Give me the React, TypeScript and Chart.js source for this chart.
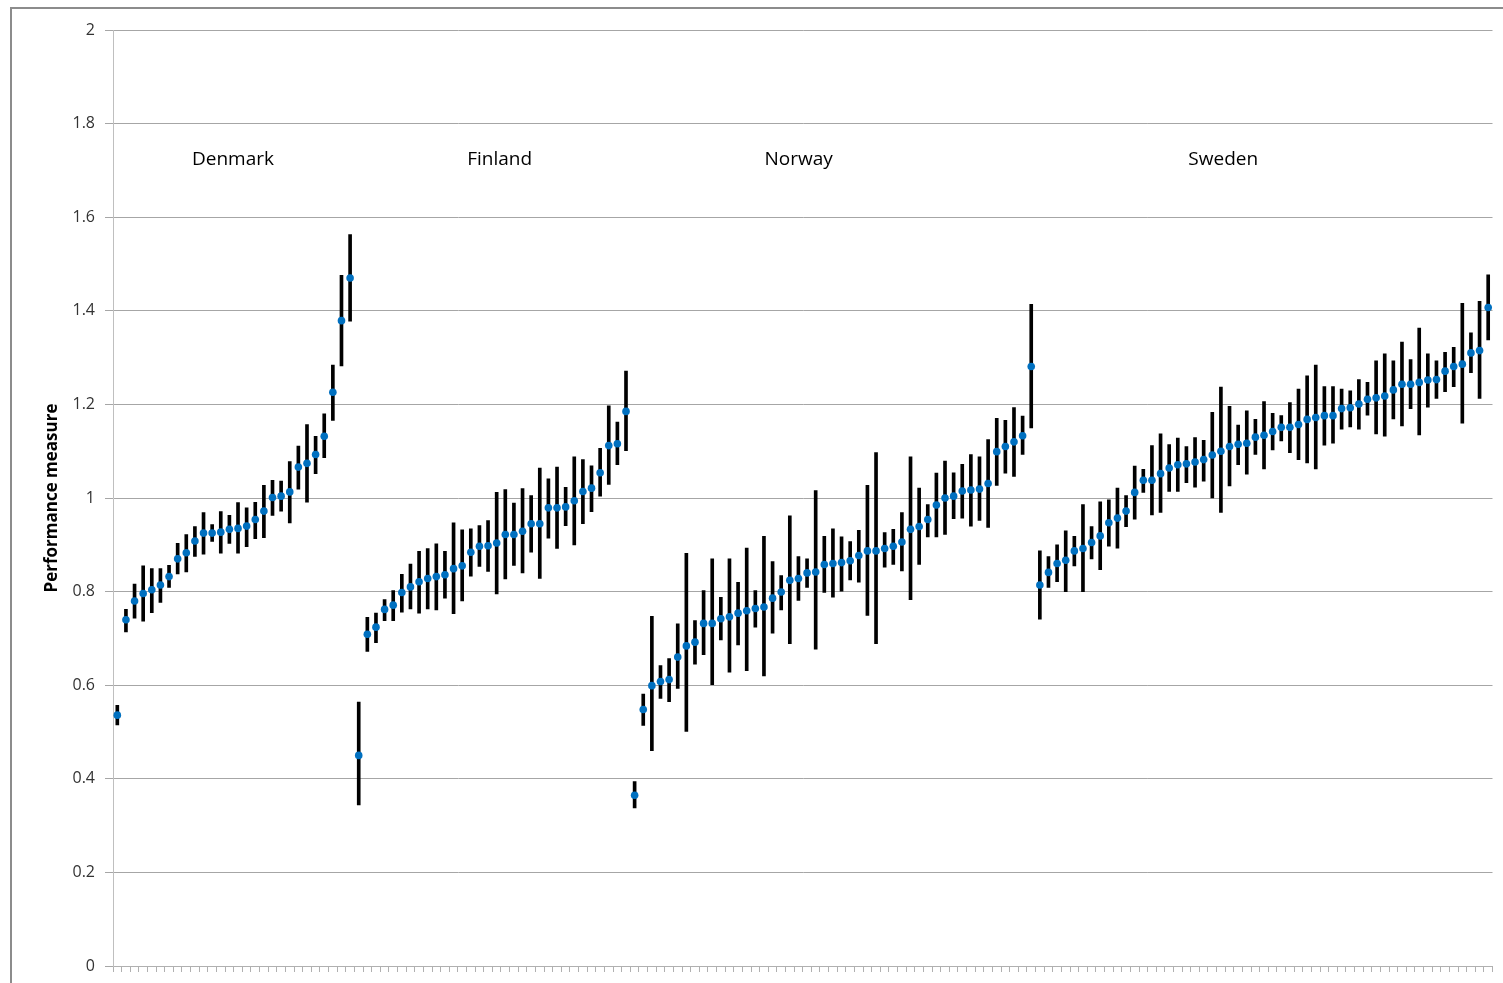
import React, { useEffect, useRef } from "react";
import { Chart, registerables } from "chart.js";

Chart.register(...registerables);

// ---- data ----
const groupNames = ["Denmark", "Finland", "Norway", "Sweden"];
// label centre positions, expressed in category-index units
const groupLabelPos = [13.42, 44.34, 79.02, 128.27];
const groupLabelValue = 1.724;

const denmarkValues = [0.536, 0.74, 0.78, 0.796, 0.804, 0.814, 0.832, 0.87, 0.883, 0.908, 0.925, 0.925, 0.927, 0.933, 0.935, 0.94, 0.954, 0.972, 1.001, 1.004, 1.013, 1.066, 1.074, 1.093, 1.132, 1.226, 1.379, 1.47];
const denmarkLow = [0.515, 0.714, 0.743, 0.737, 0.755, 0.777, 0.809, 0.838, 0.842, 0.875, 0.88, 0.907, 0.882, 0.903, 0.882, 0.896, 0.913, 0.915, 0.963, 0.972, 0.947, 1.019, 0.991, 1.052, 1.086, 1.166, 1.282, 1.378];
const denmarkHigh = [0.557, 0.762, 0.816, 0.855, 0.849, 0.849, 0.856, 0.903, 0.922, 0.939, 0.969, 0.943, 0.971, 0.963, 0.99, 0.979, 0.991, 1.027, 1.038, 1.036, 1.078, 1.111, 1.157, 1.132, 1.18, 1.284, 1.476, 1.563];

const finlandValues = [0.45, 0.709, 0.724, 0.762, 0.771, 0.798, 0.81, 0.821, 0.828, 0.832, 0.836, 0.849, 0.855, 0.884, 0.897, 0.898, 0.904, 0.922, 0.922, 0.929, 0.945, 0.945, 0.979, 0.979, 0.981, 0.994, 1.014, 1.021, 1.054, 1.112, 1.116, 1.185];
const finlandLow = [0.344, 0.672, 0.691, 0.738, 0.738, 0.756, 0.763, 0.754, 0.763, 0.761, 0.786, 0.753, 0.78, 0.833, 0.854, 0.843, 0.795, 0.827, 0.856, 0.84, 0.884, 0.828, 0.914, 0.892, 0.941, 0.9, 0.945, 0.971, 1.004, 1.029, 1.071, 1.101];
const finlandHigh = [0.564, 0.745, 0.754, 0.783, 0.802, 0.837, 0.859, 0.886, 0.892, 0.902, 0.886, 0.947, 0.932, 0.934, 0.941, 0.952, 1.012, 1.018, 0.989, 1.02, 1.005, 1.064, 1.041, 1.066, 1.023, 1.088, 1.082, 1.069, 1.106, 1.197, 1.162, 1.271];

const norwayValues = [0.365, 0.548, 0.599, 0.608, 0.612, 0.66, 0.684, 0.692, 0.732, 0.732, 0.742, 0.746, 0.754, 0.759, 0.764, 0.767, 0.786, 0.799, 0.824, 0.828, 0.84, 0.842, 0.858, 0.86, 0.862, 0.866, 0.877, 0.887, 0.887, 0.892, 0.897, 0.906, 0.933, 0.939, 0.954, 0.985, 1.0, 1.004, 1.015, 1.017, 1.019, 1.031, 1.099, 1.11, 1.12, 1.133, 1.281];
const norwayLow = [0.338, 0.514, 0.46, 0.572, 0.565, 0.593, 0.501, 0.645, 0.665, 0.601, 0.697, 0.628, 0.686, 0.631, 0.724, 0.62, 0.711, 0.761, 0.689, 0.781, 0.809, 0.677, 0.798, 0.788, 0.801, 0.825, 0.82, 0.749, 0.689, 0.852, 0.858, 0.844, 0.783, 0.858, 0.917, 0.917, 0.922, 0.956, 0.957, 0.94, 0.952, 0.937, 1.027, 1.053, 1.046, 1.093, 1.15];
const norwayHigh = [0.394, 0.581, 0.747, 0.642, 0.657, 0.731, 0.882, 0.738, 0.802, 0.87, 0.788, 0.87, 0.82, 0.893, 0.802, 0.918, 0.864, 0.834, 0.962, 0.875, 0.87, 1.016, 0.918, 0.934, 0.917, 0.907, 0.931, 1.027, 1.097, 0.926, 0.933, 0.969, 1.088, 1.021, 0.986, 1.053, 1.079, 1.054, 1.072, 1.093, 1.088, 1.125, 1.17, 1.166, 1.193, 1.175, 1.414];

const swedenValues = [0.814, 0.841, 0.86, 0.867, 0.887, 0.892, 0.905, 0.919, 0.947, 0.957, 0.972, 1.012, 1.038, 1.038, 1.052, 1.064, 1.071, 1.073, 1.077, 1.082, 1.092, 1.1, 1.11, 1.115, 1.117, 1.13, 1.134, 1.142, 1.151, 1.151, 1.157, 1.168, 1.172, 1.176, 1.176, 1.191, 1.193, 1.201, 1.211, 1.214, 1.218, 1.231, 1.243, 1.243, 1.247, 1.252, 1.253, 1.271, 1.281, 1.286, 1.31, 1.315, 1.407];
const swedenLow = [0.741, 0.809, 0.821, 0.8, 0.855, 0.8, 0.87, 0.847, 0.897, 0.893, 0.939, 0.955, 1.012, 0.964, 0.969, 1.014, 1.014, 1.033, 1.023, 1.036, 1.0, 0.969, 1.026, 1.071, 1.051, 1.093, 1.062, 1.103, 1.122, 1.097, 1.082, 1.075, 1.062, 1.113, 1.117, 1.147, 1.152, 1.147, 1.177, 1.137, 1.132, 1.169, 1.154, 1.191, 1.135, 1.194, 1.213, 1.227, 1.238, 1.16, 1.268, 1.213, 1.338];
const swedenHigh = [0.887, 0.875, 0.9, 0.93, 0.918, 0.986, 0.939, 0.992, 0.996, 1.021, 1.005, 1.068, 1.061, 1.112, 1.137, 1.114, 1.128, 1.11, 1.129, 1.123, 1.183, 1.237, 1.196, 1.156, 1.186, 1.168, 1.206, 1.181, 1.176, 1.204, 1.233, 1.261, 1.284, 1.238, 1.238, 1.233, 1.229, 1.253, 1.247, 1.293, 1.308, 1.293, 1.333, 1.296, 1.363, 1.308, 1.293, 1.311, 1.322, 1.416, 1.353, 1.42, 1.477];

const yTicksMin = 0;
const yTicksMax = 2;
const yTickStep = 0.2;
const yAxisTitle = "Performance measure";

const groupPlugin = {
  id: "groupLabels",
  afterDatasetsDraw(chart: any) {
    const { ctx, scales } = chart;
    const x = scales.x;
    const y = scales.y;
    ctx.save();
    ctx.font = '19px "Open Sans"';
    ctx.fillStyle = "#000000";
    ctx.textAlign = "center";
    ctx.textBaseline = "middle";
    groupNames.forEach((name, i) => {
      ctx.fillText(name, x.getPixelForValue(groupLabelPos[i]), y.getPixelForValue(groupLabelValue));
    });
    ctx.restore();
  },
};

export default function App() {
  const ref = useRef<HTMLCanvasElement | null>(null);

  useEffect(() => {
    const values = [...denmarkValues, ...finlandValues, ...norwayValues, ...swedenValues];
    const lows = [...denmarkLow, ...finlandLow, ...norwayLow, ...swedenLow];
    const highs = [...denmarkHigh, ...finlandHigh, ...norwayHigh, ...swedenHigh];
    const groupSizes = [denmarkValues.length, finlandValues.length, norwayValues.length, swedenValues.length];
    const labels: string[] = [];
    groupSizes.forEach((n, g) => {
      for (let i = 0; i < n; i++) labels.push(`${groupNames[g]} ${i + 1}`);
    });

    const chart = new Chart(ref.current as HTMLCanvasElement, {
      type: "bar",
      data: {
        labels,
        datasets: [
          {
            type: "line",
            label: "Estimate",
            data: values,
            showLine: false,
            pointRadius: 3.8,
            pointHoverRadius: 3.8,
            pointBackgroundColor: "#0070C0",
            pointBorderWidth: 0,
            borderColor: "#0070C0",
            order: 0,
          } as any,
          {
            type: "bar",
            label: "Interval",
            data: lows.map((l, i) => [l, highs[i]]),
            backgroundColor: "#000000",
            borderWidth: 0,
            barThickness: 3,
            order: 1,
          } as any,
        ],
      },
      options: {
        responsive: false,
        maintainAspectRatio: false,
        animation: false,
        devicePixelRatio: 1,
        layout: { padding: { top: 30, left: 0, right: 10.5, bottom: 0 } },
        plugins: {
          legend: { display: false },
          tooltip: { enabled: false },
        },
        scales: {
          x: {
            type: "category",
            offset: true,
            grid: {
              offset: true,
              drawOnChartArea: false,
              drawTicks: true,
              tickLength: 6,
              color: "#b0b0b0",
            },
            border: { display: true, color: "#b0b0b0", width: 1 },
            ticks: { display: false, autoSkip: false },
            afterFit: (scale: any) => {
              scale.height = 17;
            },
          },
          y: {
            min: yTicksMin,
            max: yTicksMax,
            grid: {
              color: "#a6a6a6",
              drawTicks: true,
              tickLength: 8,
            },
            border: { display: true, color: "#bfbfbf", width: 1 },
            ticks: {
              stepSize: yTickStep,
              padding: 10,
              color: "#333333",
              font: { family: '"Open Sans"', size: 16, lineHeight: 0.7 },
              callback: (v: any) => String(Number(Number(v).toFixed(1))),
            },
            title: {
              display: true,
              text: yAxisTitle,
              color: "#000000",
              font: { family: '"Open Sans"', size: 17, weight: "bold" },
              padding: { top: 42, bottom: 0 },
            },
            afterFit: (scale: any) => {
              scale.width = 113;
            },
          },
        },
      },
      plugins: [groupPlugin],
    });
    return () => chart.destroy();
  }, []);

  return (
    <div style={{ position: "absolute", left: 0, top: 0, width: 1503, height: 983, background: "#ffffff", overflow: "hidden" }}>
      <canvas ref={ref} width={1503} height={983} style={{ position: "absolute", left: 0, top: 0, width: 1503, height: 983 }} />
      <div
        style={{
          position: "absolute",
          left: 10,
          top: 7,
          width: 1600,
          height: 1100,
          borderTop: "2px solid #8c8c8c",
          borderLeft: "2px solid #8c8c8c",
          pointerEvents: "none",
        }}
      />
    </div>
  );
}
